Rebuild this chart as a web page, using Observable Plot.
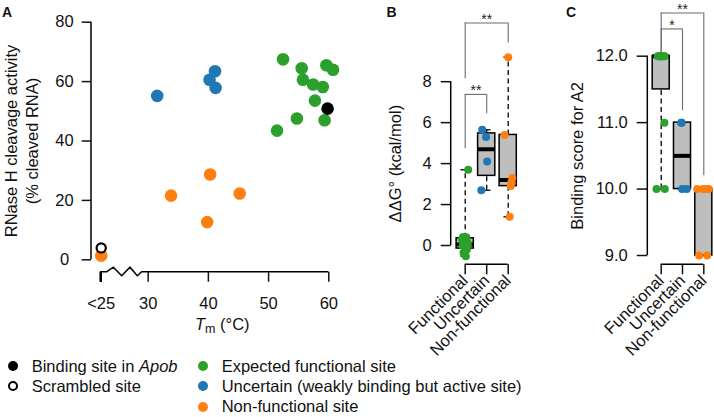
<!DOCTYPE html>
<html><head><meta charset="utf-8">
<script src="https://cdn.jsdelivr.net/npm/d3@7"></script>
<script src="https://cdn.jsdelivr.net/npm/@observablehq/plot@0.6"></script>
<style>
body{margin:0;background:#fff;}
#root{position:relative;width:714px;height:417px;overflow:hidden;font-family:"Liberation Sans",Arial,sans-serif;color:#111;}
.t{position:absolute;white-space:nowrap;line-height:1.15;font-size:16.5px;}
.dot{position:absolute;border-radius:50%;box-sizing:border-box;}
</style></head><body><div id="root"></div>
<script>
// ---------------- data ----------------
const groups = ["Functional", "Uncertain", "Non-functional"];
const groupColors = ["#2ca02c", "#1f77b4", "#ff7f0e"];

// Panel A: Tm (°C) vs RNase H cleavage activity (% cleaved RNA)
const tmBelow25 = 22.2;               // value used for the "<25" break tick
const aTickValues = [tmBelow25, 30, 40, 50, 60];
const aTickLabels = ["<25", "30", "40", "50", "60"];
const aYTicks = [0, 20, 40, 60, 80];
const functionalTm  = [52.4, 55.5, 55.7, 57.4, 59.0, 59.6, 60.7, 57.7, 54.7, 59.3, 51.4];
const functionalAct = [67.5, 64.5, 60.6, 59.0, 58.2, 65.5, 64.0, 53.6, 47.6, 47.0, 43.5];
const uncertainTm   = [31.5, 40.2, 41.1, 41.2];
const uncertainAct  = [55.2, 60.6, 63.5, 57.9];
const nonfuncTm     = [tmBelow25, 33.8, 40.3, 45.2, 39.8];
const nonfuncAct    = [1.4, 21.6, 28.7, 22.3, 12.7];
const apobTm = [59.8], apobAct = [50.9];
const scrambledTm = [tmBelow25], scrambledAct = [4.0];

// Panel B: ΔΔG° (kcal/mol) per category (values, jitter in category units)
const ddgFunctional  = [3.7, 0.42, 0.4, 0.3, 0.15, 0.07, 0.03, 0.0, -0.1, -0.2, -0.35, -0.52];
const ddgFunctionalJ = [0.14, -0.1, 0.05, -0.15, 0.1, -0.05, 0.12, -0.12, 0.0, 0.08, -0.08, 0.03];
const ddgUncertain   = [5.65, 5.3, 4.1, 2.7];
const ddgUncertainJ  = [-0.21, -0.03, 0.02, -0.25];
const ddgNonfunc     = [9.2, 5.4, 3.3, 3.1, 2.9, 1.4];
const ddgNonfuncJ    = [0, -0.17, 0.19, 0.15, 0.12, 0.07];
const bYTicks = [0, 2, 4, 6, 8];
const bSig = [
  {from: 1, to: 3, y: 10.87, yFrom: 8.15, yTo: 9.89, label: "**"},
  {from: 1, to: 2, y: 7.38, yFrom: 4.73, yTo: 6.44, label: "**"}
];

// Panel C: Binding score for A2
const scoreFunctional  = [12, 12, 12, 12, 12, 12, 12, 12, 12, 11, 10, 10];
const scoreFunctionalJ = [-0.16, -0.12, -0.08, -0.04, 0, 0.04, 0.08, 0.12, 0.16, 0.15, -0.22, 0.17];
const scoreUncertain   = [11, 11, 10, 10];
const scoreUncertainJ  = [-0.06, -0.04, -0.02, 0.2];
const scoreNonfunc     = [10, 10, 10, 10, 9, 9];
const scoreNonfuncJ    = [-0.31, -0.03, 0.1, 0.23, -0.22, 0.16];
const cYTicks = [9, 10, 11, 12];
const cSig = [
  {from: 1, to: 3, y: 12.65, yFrom: 12.02, yTo: 10.2, label: "**"},
  {from: 1, to: 2, y: 12.41, yFrom: 12.02, yTo: 11.18, label: "*"}
];

// ---------------- helpers ----------------
const FONT = "Liberation Sans, Arial, sans-serif";
const color = {domain: groups, range: groupColors};
function fivenum(v) {
  const x = v.slice().sort((a, b) => a - b), n = x.length;
  const n4 = Math.floor((n + 3) / 2) / 2;
  return [1, n4, (n + 1) / 2, n + 1 - n4, n].map(k => 0.5 * (x[Math.floor(k) - 1] + x[Math.ceil(k) - 1]));
}
function points(valuesList, jitterList) {
  return valuesList.flatMap((vals, i) => vals.map((v, j) => ({pos: i + 1, value: v, jitter: jitterList[i][j], group: groups[i]})));
}
function stats(valuesList) {
  return valuesList.map((vals, i) => {
    const f = fivenum(vals);
    return {pos: i + 1, min: f[0], q1: f[1], med: f[2], q3: f[3], max: f[4]};
  });
}
function pathEl(d, sw) {
  const p = document.createElementNS("http://www.w3.org/2000/svg", "path");
  p.setAttribute("d", d); p.setAttribute("fill", "none");
  p.setAttribute("stroke", "black"); p.setAttribute("stroke-width", sw);
  return p;
}
// axis lines drawn from the scales (R style: span first to last tick)
function axisLines(yFrom, yTo, xFrom, xTo) {
  return (index, scales, values, dims) => {
    const g = document.createElementNS("http://www.w3.org/2000/svg", "g");
    const xl = dims.marginLeft, yb = dims.height - dims.marginBottom;
    g.appendChild(pathEl(`M${xl},${scales.y(yFrom)}V${scales.y(yTo)}`, 1.5));
    g.appendChild(pathEl(`M${scales.x(xFrom)},${yb}H${scales.x(xTo)}`, 1.5));
    return g;
  };
}
function boxMarks(st) {
  return [
    Plot.ruleX(st, {x: "pos", y1: "q3", y2: "max", stroke: "black", strokeWidth: 1.3, strokeDasharray: "5,3.5"}),
    Plot.ruleX(st, {x: "pos", y1: "min", y2: "q1", stroke: "black", strokeWidth: 1.3, strokeDasharray: "5,3.5"}),
    Plot.ruleY(st, {y: "max", x1: d => d.pos - 0.2, x2: d => d.pos + 0.2, stroke: "black", strokeWidth: 1.3}),
    Plot.ruleY(st, {y: "min", x1: d => d.pos - 0.2, x2: d => d.pos + 0.2, stroke: "black", strokeWidth: 1.3}),
    Plot.rect(st, {x1: d => d.pos - 0.4, x2: d => d.pos + 0.4, y1: "q1", y2: "q3", fill: "#bebebe", stroke: "black", strokeWidth: 1.5}),
    Plot.ruleY(st, {y: "med", x1: d => d.pos - 0.4, x2: d => d.pos + 0.4, stroke: "black", strokeWidth: 4})
  ];
}
function sigMarks(sig) {
  return [
    Plot.ruleY(sig, {y: "y", x1: "from", x2: "to", stroke: "#6b6b6b", strokeWidth: 1.1}),
    Plot.ruleX(sig, {x: "from", y1: "yFrom", y2: "y", stroke: "#6b6b6b", strokeWidth: 1.1}),
    Plot.ruleX(sig, {x: "to", y1: "yTo", y2: "y", stroke: "#6b6b6b", strokeWidth: 1.1}),
    Plot.text(sig, {x: d => (d.from + d.to) / 2, y: "y", text: "label", fontSize: 14, dy: -3.7, fill: "#222"})
  ];
}
const svgStyle = {fontFamily: FONT, fontSize: "16.5px", overflow: "visible", background: "transparent", color: "#111"};
const root = document.getElementById("root");
function place(el, left) {
  el.style.position = "absolute"; el.style.left = left + "px"; el.style.top = "0px";
  root.appendChild(el);
}
function html(content, left, top, extra) {
  const d = document.createElement("div");
  d.className = "t"; d.innerHTML = content;
  d.style.left = left + "px"; d.style.top = top + "px";
  Object.assign(d.style, extra || {});
  root.appendChild(d);
}

// ---------------- Panel A ----------------
const aData = [
  ...functionalTm.map((t, i) => ({tm: t, act: functionalAct[i], group: groups[0]})),
  ...uncertainTm.map((t, i) => ({tm: t, act: uncertainAct[i], group: groups[1]})),
  ...nonfuncTm.map((t, i) => ({tm: t, act: nonfuncAct[i], group: groups[2]}))
];
const apob = apobTm.map((t, i) => ({tm: t, act: apobAct[i]}));
const scrambled = scrambledTm.map((t, i) => ({tm: t, act: scrambledAct[i]}));

const plotA = Plot.plot({
  width: 360, height: 345,
  marginLeft: 91, marginTop: 21.7, marginBottom: 73.3, marginRight: 20,
  style: svgStyle,
  x: {domain: [tmBelow25, 60], range: [100.7, 328.3]},
  y: {domain: [0, 80], range: [259.3, 21.7]},
  color,
  marks: [
    Plot.axisY({ticks: aYTicks, tickSize: 9.3, tickPadding: 17.7, textAnchor: "middle", strokeWidth: 1.5, fontSize: 16.5, label: null}),
    Plot.axisX({ticks: aTickValues, tickFormat: d => aTickLabels[aTickValues.indexOf(d)], tickSize: 10, tickPadding: 15, strokeWidth: 1.5, fontSize: 16.5, label: null}),
    (index, scales, values, dims) => {
      const g = document.createElementNS("http://www.w3.org/2000/svg", "g");
      const xl = dims.marginLeft, yb = dims.height - dims.marginBottom;
      g.appendChild(pathEl(`M${xl},${scales.y(aYTicks[0])}V${scales.y(aYTicks[aYTicks.length - 1])}`, 1.5));
      const x0 = scales.x(tmBelow25), w = scales.x(30) - x0, x2 = scales.x(60);
      const f = [0.128, 0.268, 0.447, 0.623, 0.779, 0.872];
      const zz = [[x0, yb + 10], [x0, yb], [x0 + f[0] * w, yb], [x0 + f[1] * w, yb - 4.5], [x0 + f[2] * w, yb + 4],
                  [x0 + f[3] * w, yb - 4.5], [x0 + f[4] * w, yb + 4], [x0 + f[5] * w, yb], [x2, yb]];
      g.appendChild(pathEl("M" + zz.map(p => p.join(",")).join("L"), 1.5));
      g.appendChild(pathEl(`M${x0},${yb}V${yb + 10}`, 2.5));
      return g;
    },
    Plot.text(["RNase H cleavage activity\n(% cleaved RNA)"], {y: () => 40, frameAnchor: "left", textAnchor: "middle", dx: -70.7, rotate: -90, lineHeight: 1.24, fontSize: 16.5, text: d => d, fill: "#111"}),
    Plot.dot(aData, {x: "tm", y: "act", r: 6.3, fill: "group"}),
    Plot.dot(apob, {x: "tm", y: "act", r: 6.3, fill: "black"}),
    Plot.dot(scrambled, {x: "tm", y: "act", r: 4.6, fill: "white", stroke: "black", strokeWidth: 2.2})
  ]
});
place(plotA, 0);

// ---------------- Panel B ----------------
const bPts = points([ddgFunctional, ddgUncertain, ddgNonfunc], [ddgFunctionalJ, ddgUncertainJ, ddgNonfuncJ]);
const bSt = stats([ddgFunctional, ddgUncertain, ddgNonfunc]);
const plotB = Plot.plot({
  width: 180, height: 417,
  marginLeft: 90.7, marginTop: 60, marginBottom: 152.7, marginRight: 10,
  style: svgStyle,
  x: {domain: [1, 3], range: [104.7, 147.7]},
  y: {domain: [0, 8], range: [245, 81.2]},
  color,
  marks: [
    Plot.axisY({ticks: bYTicks, tickSize: 10, tickPadding: 14, textAnchor: "middle", strokeWidth: 1.5, fontSize: 16.5, label: null}),
    Plot.axisX({ticks: [1, 2, 3], tickFormat: d => groups[d - 1], tickSize: 10, tickPadding: 3, tickRotate: -45, strokeWidth: 1.5, fontSize: 16.5, label: null}),
    axisLines(bYTicks[0], bYTicks[bYTicks.length - 1], 1, 3),
    Plot.text(["ΔΔG° (kcal/mol)"], {y: () => 4, frameAnchor: "left", textAnchor: "middle", dx: -55.7, rotate: -90, fontSize: 16.5, text: d => d, fill: "#111"}),
    ...boxMarks(bSt),
    ...sigMarks(bSig),
    Plot.dot(bPts, {x: d => d.pos + d.jitter, y: "value", r: 4, fill: "group"})
  ]
});
place(plotB, 360);

// ---------------- Panel C ----------------
const cPts = points([scoreFunctional, scoreUncertain, scoreNonfunc], [scoreFunctionalJ, scoreUncertainJ, scoreNonfuncJ]);
const cSt = stats([scoreFunctional, scoreUncertain, scoreNonfunc]);
const plotC = Plot.plot({
  width: 174, height: 417,
  marginLeft: 107.3, marginTop: 55.7, marginBottom: 152.7, marginRight: 2,
  style: svgStyle,
  x: {domain: [1, 3], range: [120.7, 163.3]},
  y: {domain: [9, 12], range: [255, 55.7]},
  color,
  marks: [
    Plot.axisY({ticks: cYTicks, tickFormat: d => d.toFixed(1), tickSize: 10.6, tickPadding: 9.4, strokeWidth: 1.5, fontSize: 16.5, label: null}),
    Plot.axisX({ticks: [1, 2, 3], tickFormat: d => groups[d - 1], tickSize: 10, tickPadding: 3, tickRotate: -45, strokeWidth: 1.5, fontSize: 16.5, label: null}),
    axisLines(cYTicks[0], cYTicks[cYTicks.length - 1], 1, 3),
    Plot.text(["Binding score for A2"], {y: () => 10.5, frameAnchor: "left", textAnchor: "middle", dx: -69.8, rotate: -90, fontSize: 16.5, text: d => d, fill: "#111"}),
    ...boxMarks(cSt),
    ...sigMarks(cSig),
    Plot.dot(cPts, {x: d => d.pos + d.jitter, y: "value", r: 4, fill: "group"})
  ]
});
place(plotC, 540);

// ---------------- texts, panel letters, legend ----------------
html("A", 2, 4.1, {fontWeight: "bold", fontSize: "14px"});
html("B", 386.5, 4.1, {fontWeight: "bold", fontSize: "14px"});
html("C", 566, 4.1, {fontWeight: "bold", fontSize: "14px"});
html('<i>T</i><span style="font-size:12.5px;position:relative;top:3px">m</span> (°C)', 195, 314.8);

const legendLeft = [
  {label: "Binding site in <i>Apob</i>", fill: "black", open: false},
  {label: "Scrambled site", fill: "white", open: true}
];
const legendRight = [
  {label: "Expected functional site", fill: groupColors[0]},
  {label: "Uncertain (weakly binding but active site)", fill: groupColors[1]},
  {label: "Non-functional site", fill: groupColors[2]}
];
function legendItem(item, dotX, textX, row) {
  const cy = 366 + row * 20.3;
  const d = document.createElement("div");
  d.className = "dot";
  const r = 5;
  d.style.left = (dotX - r) + "px"; d.style.top = (cy - r) + "px";
  d.style.width = (2 * r) + "px"; d.style.height = (2 * r) + "px";
  d.style.background = item.fill;
  if (item.open) d.style.border = "2px solid black";
  root.appendChild(d);
  html(item.label, textX, 356.5 + row * 20);
}
legendLeft.forEach((it, i) => legendItem(it, 13.3, 31.7, i));
legendRight.forEach((it, i) => legendItem(it, 203.3, 221.7, i));
</script></body></html>
